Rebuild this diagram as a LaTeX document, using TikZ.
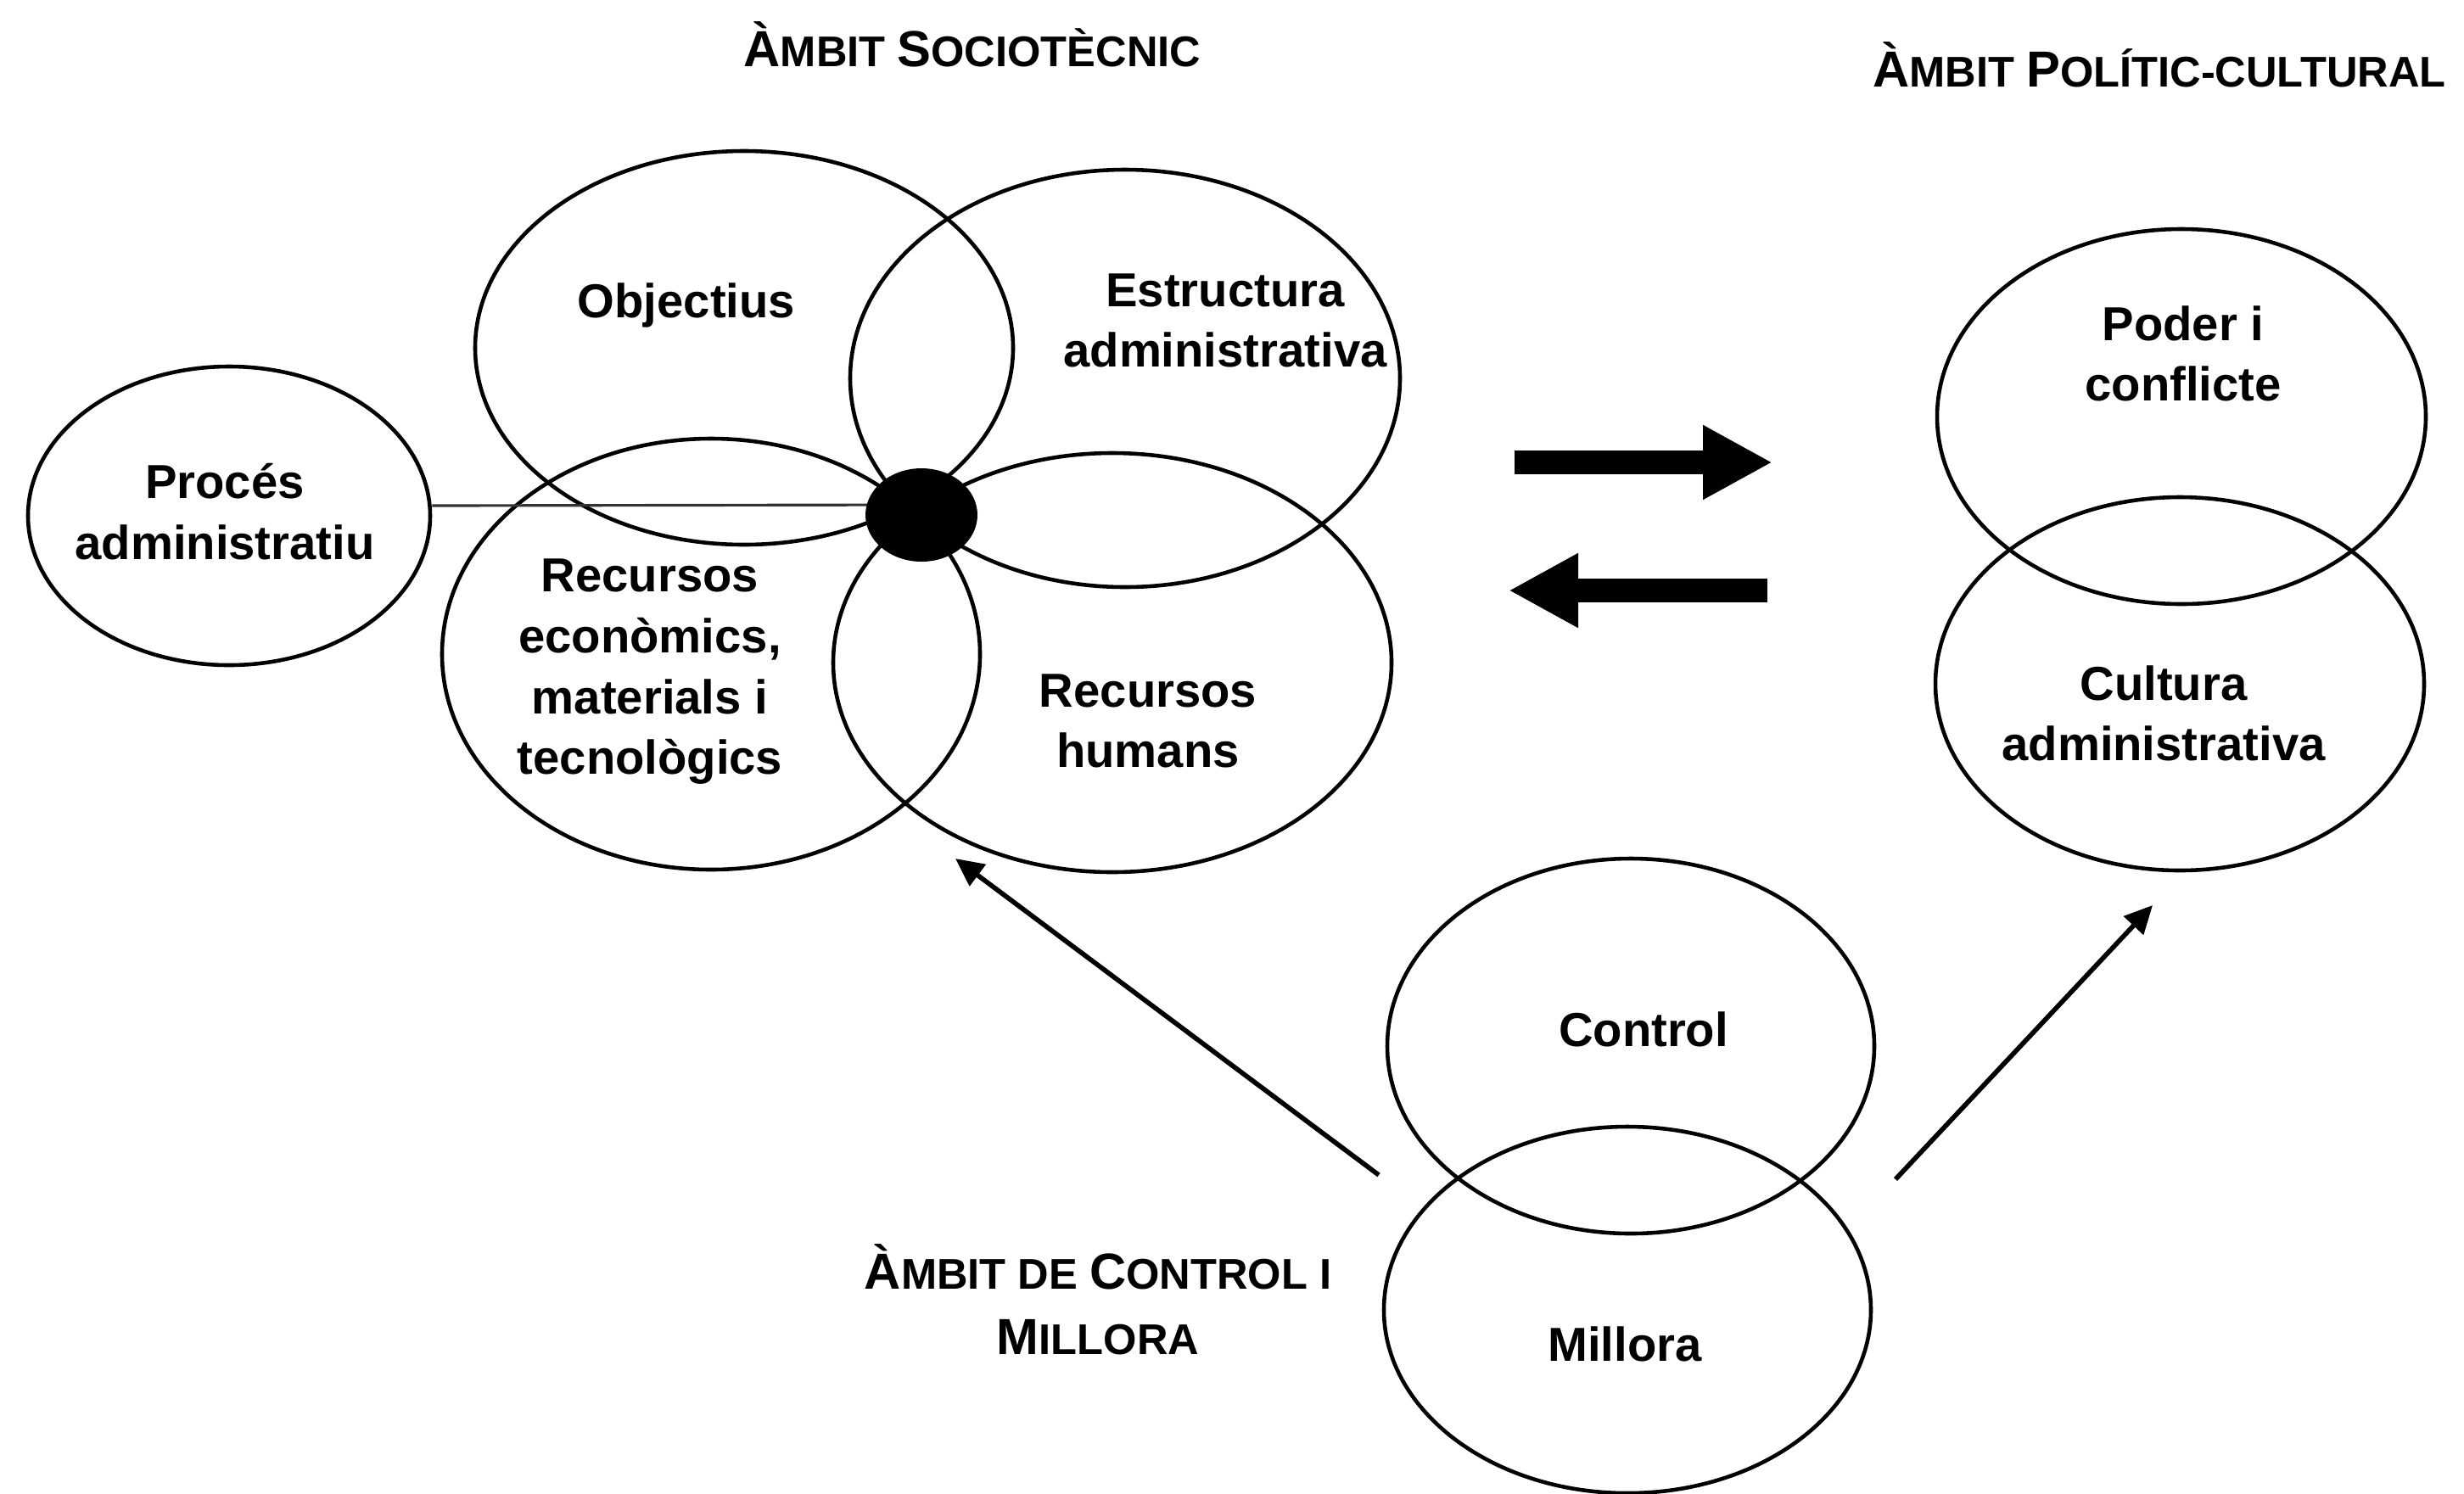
\documentclass[tikz,border=0pt]{standalone}
\usepackage{fontspec}
\setmainfont{Liberation Sans}
\usetikzlibrary{shapes.geometric, arrows.meta}

\newcommand{\capA}[1]{{\fontsize{17}{22}\selectfont #1}}
\newcommand{\capB}[1]{{\fontsize{14.4}{22}\selectfont #1}}

\begin{document}
\begin{tikzpicture}[
		elli/.style={draw, ellipse, line width=1.3pt, inner sep=0pt},
		txt/.style={align=center, font=\bfseries\fontsize{16}{20.4}\selectfont},
		ttl/.style={align=center, font=\bfseries\fontsize{14.4}{22}\selectfont},
		link/.style={draw=black!80, line width=0.9pt},
		thinarrow/.style={-{Triangle[length=3.3mm, width=3.1mm]}, line width=1.6pt},
		bigarrow/.style={-{Triangle[length=8.2mm, width=8.2mm]}, line width=2.8mm}]
			\useasboundingbox (0,0) rectangle (29.04,-17.60);
			
			% ambit sociotecnic
			\node (obj) [elli, minimum width=6.34cm, minimum height=4.64cm] at (8.77,-4.10) {};
			\node (estr) [elli, minimum width=6.48cm, minimum height=4.92cm] at (13.26,-4.46) {};
			\node (recec) [elli, minimum width=6.34cm, minimum height=5.08cm] at (8.38,-7.71) {};
			\node (rechum) [elli, minimum width=6.58cm, minimum height=4.94cm] at (13.11,-7.81) {};
			\node (proc) [elli, minimum width=4.74cm, minimum height=3.52cm] at (2.70,-6.08) {};
			\draw [link] ([yshift=1.2mm]proc.east) -- ([yshift=1.2mm]10.86,-6.07);
			\node (dot) [ellipse, fill=black, minimum width=1.32cm, minimum height=1.10cm, inner sep=0pt] at (10.86,-6.07) {};
			
			% ambit politic-cultural
			\node (poder) [elli, minimum width=5.76cm, minimum height=4.42cm] at (25.71,-4.91) {};
			\node (cult) [elli, minimum width=5.76cm, minimum height=4.40cm] at (25.69,-8.06) {};
			
			% ambit de control i millora
			\node (ctrl) [elli, minimum width=5.74cm, minimum height=4.42cm] at (19.22,-12.33) {};
			\node (mill) [elli, minimum width=5.74cm, minimum height=4.32cm] at (19.18,-15.44) {};
			
			\node (tObj) [txt] at (8.09,-3.60) {Objectius};
			\node (tEstr) [txt] at (14.44,-3.78) {Estructura\\administrativa};
			\node (tProc) [txt] at (2.65,-6.03) {Procés\\administratiu};
			\node (tRecec) [txt] at (7.66,-7.92) {Recursos\\econòmics,\\materials i\\tecnològics};
			\node (tRechum) [txt] at (13.53,-8.50) {Recursos\\humans};
			\node (tPoder) [txt] at (25.73,-4.17) {Poder i\\conflicte};
			\node (tCult) [txt] at (25.50,-8.41) {Cultura\\administrativa};
			\node (tCtrl) [txt] at (19.37,-12.13) {Control};
			\node (tMill) [txt] at (19.15,-15.84) {Millora};
			
			\node (tSocio) [ttl, anchor=base] at (11.46,-0.78) {\capA{À}\capB{MBIT} \capA{S}\capB{OCIOTÈCNIC}};
			\node (tPolit) [ttl, anchor=base east] at (28.95,-1.02) {\capA{À}\capB{MBIT} \capA{P}\capB{OLÍTIC-CULTURAL}};
			\node (tCtrlM) [ttl] at (12.94,-15.32) {\capA{À}\capB{MBIT DE} \capA{C}\capB{ONTROL I}\\\capA{M}\capB{ILLORA}};
			
			% arrows
			\coordinate (a1s) at (16.25,-13.85);
			\coordinate (a1e) at (11.26,-10.12);
			\coordinate (a2s) at (22.34,-13.90);
			\coordinate (a2e) at (25.37,-10.67);
			\draw [thinarrow] (a1s) -- (a1e);
			\draw [thinarrow] (a2s) -- (a2e);
			
			\coordinate (b1s) at (17.85,-5.45);
			\coordinate (b1e) at (20.89,-5.45);
			\coordinate (b2s) at (20.83,-6.96);
			\coordinate (b2e) at (17.78,-6.96);
			\draw [bigarrow] (b1s) -- (b1e);
			\draw [bigarrow] (b2s) -- (b2e);
		\end{tikzpicture}
\end{document}
